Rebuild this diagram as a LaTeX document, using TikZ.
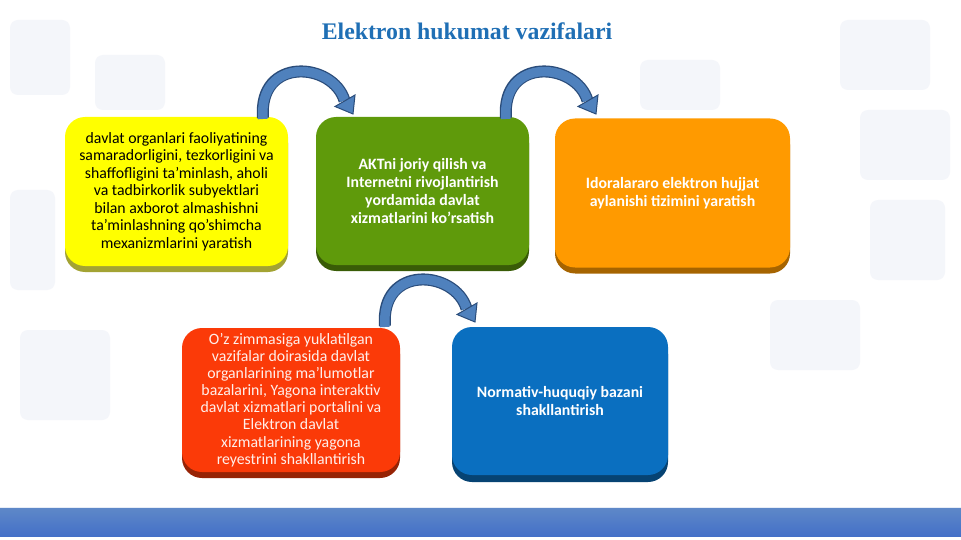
\documentclass[tikz,border=0pt]{standalone}
\usepackage{fontspec}
\setmainfont{Carlito}
\newfontfamily\titlefont{Liberation Serif}
\usetikzlibrary{shadows,arrows.meta}
\definecolor{ttl}{HTML}{1F6FB5}
\definecolor{cyel}{HTML}{FFFF00}
\definecolor{cgrn}{HTML}{5F9A0B}
\definecolor{corg}{HTML}{FF9A00}
\definecolor{cred}{HTML}{FB3A08}
\definecolor{cblu}{HTML}{0A6FC0}
\definecolor{arrfill}{HTML}{4F81BD}
\definecolor{arrline}{HTML}{2A4C7A}
\definecolor{bandtop}{HTML}{5E88C8}
\definecolor{bandbot}{HTML}{4470C8}
\definecolor{bgsq}{HTML}{F4F6FA}
\tikzset{
  card/.style={rounded corners=20pt, minimum width=#1, inner sep=2pt, align=center,
    font=\fontsize{15.8}{17.5}\selectfont},
  yelcard/.style={card=223pt, minimum height=149pt, fill=cyel, text=black,
    general shadow={fill=cyel!55!black!80, shadow yshift=-6pt}},
  grncard/.style={card=213pt, minimum height=148pt, fill=cgrn, text=white,
    font=\fontsize{15.8}{18}\selectfont\bfseries,
    general shadow={fill=cgrn!60!black, shadow yshift=-6pt}},
  orgcard/.style={card=235pt, minimum height=149pt, fill=corg, text=white,
    font=\fontsize{15.8}{17.5}\selectfont\bfseries,
    general shadow={fill=corg!65!black, shadow yshift=-6pt}},
  redcard/.style={card=218pt, minimum height=144pt, fill=cred, text=white!92!cred,
    font=\fontsize{15.8}{17.1}\selectfont,
    general shadow={fill=cred!60!black, shadow yshift=-6pt}},
  blucard/.style={card=216pt, minimum height=148pt, fill=cblu, text=white,
    font=\fontsize{15.8}{17.5}\selectfont\bfseries,
    general shadow={fill=cblu!60!black, shadow yshift=-7pt}},
  shaftout/.style={draw=arrline, line width=12pt},
  shaftin/.style={draw=arrfill, line width=9.5pt},
  headshape/.style={fill=arrfill, draw=arrline, line width=1pt, line join=miter}
}
\begin{document}
\begin{tikzpicture}[x=1pt,y=-1pt]
\useasboundingbox (0,0) rectangle (961,540);
\fill[white] (0,0) rectangle (961,540);
% faint background squares
\foreach \a/\b/\c/\d in {10/20/70/95, 95/55/165/110, 840/20/930/90, 860/110/950/180,
  10/190/55/290, 870/200/945/280, 770/300/860/370, 20/330/110/420, 640/60/720/110}
  {\fill[bgsq, rounded corners=8pt] (\a,\b) rectangle (\c,\d);}
% title
\node[font=\titlefont\fontsize{23.8}{28}\selectfont\bfseries, text=ttl] (title) at (467,31) {Elektron hukumat vazifalari};
% cards
\node[yelcard] (yel) at (176.5,191.5) {davlat organlari faoliyatining\\samaradorligini, tezkorligini va\\shaffofligini ta'minlash, aholi\\va tadbirkorlik subyektlari\\bilan axborot almashishni\\ta'minlashning qo'shimcha\\mexanizmlarini yaratish};
\node[grncard] (grn) at (422.5,191) {AKTni joriy qilish va\\Internetni rivojlantirish\\yordamida davlat\\xizmatlarini ko'rsatish};
\node[orgcard] (org) at (672.5,193) {Idoralararo elektron hujjat\\aylanishi tizimini yaratish};
\node[redcard] (red) at (291,400) {O'z zimmasiga yuklatilgan\\vazifalar doirasida davlat\\organlarining ma'lumotlar\\bazalarini, Yagona interaktiv\\davlat xizmatlari portalini va\\Elektron davlat\\xizmatlarining yagona\\reyestrini shakllantirish};
\node[blucard] (blu) at (560,401) {Normativ-huquqiy bazani\\shakllantirish};
% curved block arrows
\foreach \dx/\dy/\nm in {0/0/a, 243/0/b, 122/208/c}{
  \begin{scope}[shift={(\dx,\dy)}]
    \coordinate (\nm s) at (263,118);
    \coordinate (\nm e) at (344.5,100.5);
    \coordinate (\nm t) at (353,114);
    \coordinate (\nm l) at (335,106.5);
    \coordinate (\nm r) at (355,95);
    \draw[shaftout] (\nm s) .. controls (258,56) and (333,62) .. (\nm e);
    \draw[shaftin] ([yshift=-1pt]\nm s) .. controls (258,56) and (333,62) .. (\nm e);
    \draw[headshape] (\nm l) -- (\nm t) -- (\nm r) -- cycle;
  \end{scope}
}
% bottom band
\shade[top color=bandtop, bottom color=bandbot] (0,508) rectangle (961,536);
\draw[white!85!bandtop, line width=1pt] (0,507.5) -- (961,507.5);
\end{tikzpicture}
\end{document}
